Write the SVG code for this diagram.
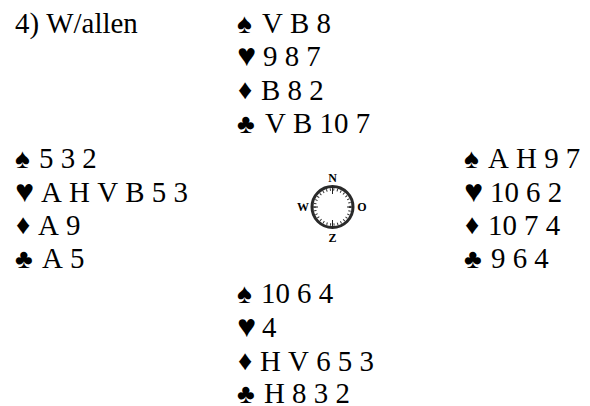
<svg xmlns="http://www.w3.org/2000/svg" width="590" height="406" viewBox="0 0 590 406">
<style>
text{font-family:"Liberation Serif","Times New Roman",serif;font-size:28.9px;fill:#000;font-kerning:none}
.sp{font-size:28px}
.he{font-size:32px}
.di{font-size:28px}
.cl{font-size:27px}
.c{font-size:12px;font-weight:bold;text-anchor:middle}
</style>
<rect width="590" height="406" fill="#fff"/>
<text x="15" y="33">4) W/allen</text>
<g id="north">
<text class="sp" x="237" y="33">♠</text><text x="262" y="33">V B 8</text>
<text class="he" x="237" y="66">♥</text><text x="263" y="66">9 8 7</text>
<text class="di" x="238" y="99">♦</text><text x="261" y="100">B 8 2</text>
<text class="cl" x="237" y="133">♣</text><text x="265" y="133">V B 10 7</text>
</g>
<g id="west">
<text class="sp" x="15" y="168">♠</text><text x="39" y="168">5 3 2</text>
<text class="he" x="15" y="202">♥</text><text x="41" y="202">A H V B 5 3</text>
<text class="di" x="16" y="234">♦</text><text x="38" y="235">A 9</text>
<text class="cl" x="15" y="268">♣</text><text x="42" y="268">A 5</text>
</g>
<g id="east">
<text class="sp" x="464" y="168">♠</text><text x="488" y="168">A H 9 7</text>
<text class="he" x="464" y="202">♥</text><text x="490" y="202">10 6 2</text>
<text class="di" x="465" y="234">♦</text><text x="488" y="235">10 7 4</text>
<text class="cl" x="464" y="268">♣</text><text x="491" y="268">9 6 4</text>
</g>
<g id="south">
<text class="sp" x="237" y="303">♠</text><text x="261" y="303">10 6 4</text>
<text class="he" x="237" y="337">♥</text><text x="262" y="337">4</text>
<text class="di" x="238" y="370">♦</text><text x="260" y="371">H V 6 5 3</text>
<text class="cl" x="237" y="403">♣</text><text x="264" y="403">H 8 3 2</text>
</g>
<g id="compass">
<circle cx="332.5" cy="207" r="20.5" fill="#fff" stroke="#2a2a2a" stroke-width="3"/>
<circle cx="332.5" cy="207" r="17.5" fill="none" stroke="#333" stroke-width="2.5" stroke-dasharray="1 2.6"/>
<path d="M332.5 186V194M332.5 220V228M312 207H318M347 207H353" stroke="#222" stroke-width="1"/>
<text class="c" x="332.5" y="182">N</text>
<text class="c" x="332.5" y="242">Z</text>
<text class="c" x="303" y="211">W</text>
<text class="c" x="362" y="211">O</text>
</g>
</svg>
